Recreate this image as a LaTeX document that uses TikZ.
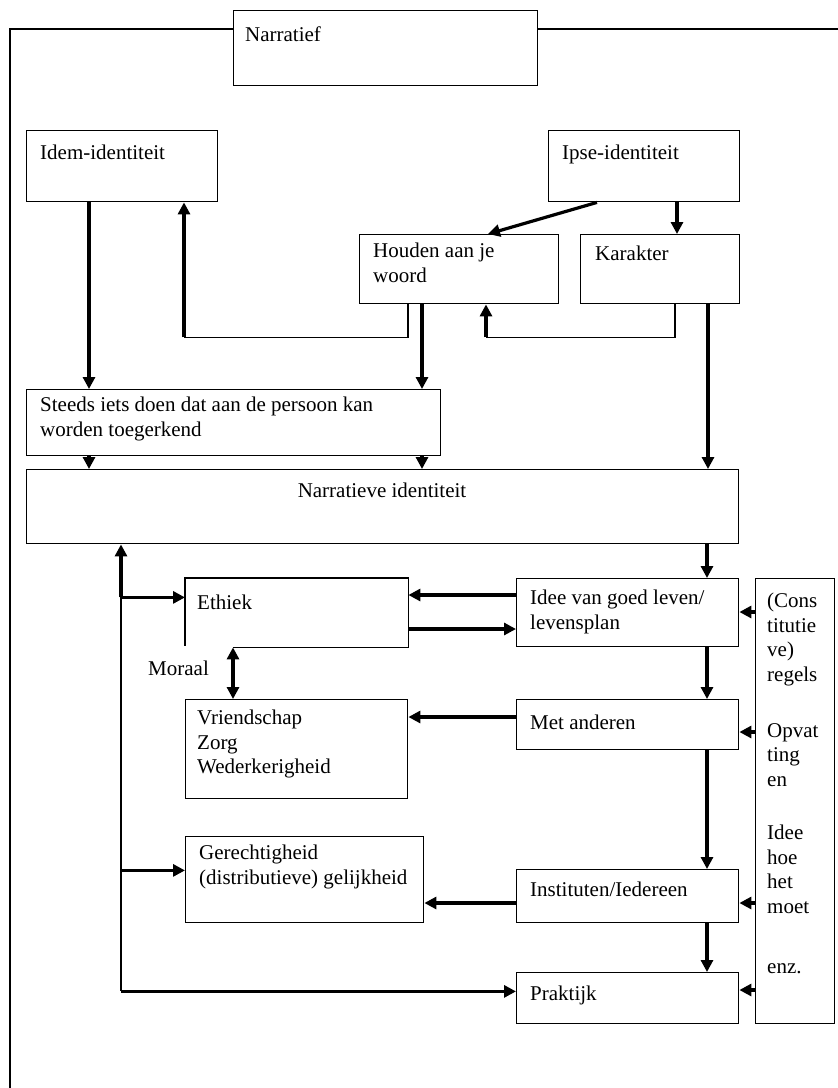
\documentclass[tikz,border=0pt]{standalone}
\usepackage{fontspec}
\setmainfont{Liberation Serif}
\usetikzlibrary{arrows.meta,calc}
\begin{document}
\begin{tikzpicture}[x=1pt,y=-1pt,
  box/.style={draw, line width=1.4pt, rectangle, inner sep=0pt, anchor=north west},
  hidbox/.style={rectangle, inner sep=0pt, outer sep=0.7pt, anchor=north west},
  txt/.style={anchor=north west, inner sep=0pt, align=left, font=\fontsize{21}{24.5}\selectfont, execute at begin node=\strut},
  arr/.style={line width=3.2pt, -{Triangle[length=12pt,width=12pt]}},
  ln/.style={line width=1.5pt},
]
\useasboundingbox (0,0) rectangle (838,1088);
\fill[white] (0,0) rectangle (838,1088);

% boxes
\node[box, minimum width=304pt, minimum height=75pt] (narr) at (233,10) {};
\node[box, minimum width=191pt, minimum height=71pt] (idem) at (26,130) {};
\node[box, minimum width=191pt, minimum height=71pt] (ipse) at (548,130) {};
\node[box, minimum width=199pt, minimum height=69pt] (houden) at (359,234) {};
\node[box, minimum width=159pt, minimum height=69pt] (karakter) at (580,234) {};
\node[box, minimum width=414pt, minimum height=66pt] (steeds) at (26,389) {};
\node[box, minimum width=712pt, minimum height=74pt] (narr2) at (26,469) {};
\node[hidbox, minimum width=222pt, minimum height=68pt] (ethiek) at (185,578) {};
\draw[line width=1.4pt] ($(ethiek.south west)+(48,0)$) -- (ethiek.south east) -- (ethiek.north east) -- (ethiek.north west) -- ($(ethiek.south west)+(0,-1)$);
\node[box, minimum width=222pt, minimum height=99pt] (vriend) at (185,699) {};
\node[box, minimum width=222pt, minimum height=68pt] (idee) at (516,578) {};
\node[box, minimum width=222pt, minimum height=50pt] (met) at (516,699) {};
\node[box, minimum width=79pt, minimum height=445pt] (regels) at (755,578) {};
\node[box, minimum width=238pt, minimum height=86pt] (gerecht) at (185,836) {};
\node[box, minimum width=222pt, minimum height=53pt] (inst) at (516,869) {};
\node[box, minimum width=222pt, minimum height=51pt] (prak) at (516,972) {};

% outer frame
\draw[ln] (10,1095) |- ($(narr.north west)+(0,19)$);
\draw[ln] ($(narr.north east)+(0,19)$) -- (845,29);

% texts
\node[txt] (tnarr) at (245,24) {Narratief};
\node[txt] (tidem) at (40,142) {Idem-identiteit};
\node[txt] (tipse) at (562,142) {Ipse-identiteit};
\node[txt] (thouden) at (373,243) {Houden aan je\\woord};
\node[txt] (tkar) at (595,243) {Karakter};
\node[txt] (tsteeds) at (40,397) {Steeds iets doen dat aan de persoon kan\\worden toegerkend};
\node[txt, anchor=north] (tnarr2) at (382,480) {Narratieve identiteit};
\node[txt] (teth) at (197,592) {Ethiek};
\node[txt] (tmor) at (148,658) {Moraal};
\node[txt] (tvr) at (197,710) {Vriendschap\\Zorg\\Wederkerigheid};
\node[txt] (tidee) at (530,590) {Idee van goed leven/\\levensplan};
\node[txt] (tmet) at (530,712) {Met anderen};
\node[txt] (treg1) at (767,593) {(Cons\\titutie\\ve)\\regels};
\node[txt] (treg2) at (767,723) {Opvat\\ting\\en};
\node[txt] (treg3) at (767,825) {Idee\\hoe\\het\\moet};
\node[txt] (treg4) at (767,956) {enz.};
\node[txt] (tger) at (199,845) {Gerechtigheid\\(distributieve) gelijkheid};
\node[txt] (tinst) at (530,879) {Instituten/Iedereen};
\node[txt] (tprak) at (530,983) {Praktijk};

% connectors
\draw[arr] ($(idem.south west)+(63,0)$) -- ($(steeds.north west)+(63,0)$);
\draw[arr] ($(ipse.south west)+(49,0)$) -- ($(houden.north west)+(129,0)$);
\draw[arr] ($(ipse.south west)+(129,0)$) -- ($(karakter.north west)+(97,0)$);
\draw[ln] ($(houden.south west)+(49,0)$) |- ($(idem.south west)+(158,135)$) coordinate (c1);
\draw[arr] (c1) -- (c1 |- idem.south);
\draw[arr] ($(houden.south west)+(63,0)$) -- ($(steeds.north west)+(396,0)$);
\draw[ln] ($(karakter.south west)+(95,0)$) |- ($(houden.south west)+(127,33)$) coordinate (c2);
\draw[arr] (c2) -- (c2 |- houden.south);
\draw[arr] ($(karakter.south west)+(128,0)$) -- ($(narr2.north west)+(682,0)$);
\draw[arr] ($(steeds.south west)+(63,0)$) -- ($(narr2.north west)+(63,0)$);
\draw[arr] ($(steeds.south west)+(396,0)$) -- ($(narr2.north west)+(396,0)$);
\draw[arr] ($(narr2.south west)+(681,0)$) -- ($(idee.north west)+(191,0)$);
\draw[arr] ($(idee.north west)+(0,17)$) -- ($(ethiek.north east)+(0,17)$);
\draw[arr] ($(ethiek.north east)+(0,51)$) -- ($(idee.north west)+(0,51)$);
\draw[arr] ($(regels.north west)+(0,34)$) -- ($(idee.north east)+(0,34)$);
\draw[arr] ($(idee.south west)+(191,0)$) -- ($(met.north west)+(191,0)$);
\draw[arr] ($(regels.north west)+(0,154)$) -- ($(met.north east)+(0,33)$);
\draw[arr] ($(met.north west)+(0,18)$) -- ($(vriend.north east)+(0,18)$);
\draw[arr, {Triangle[length=12pt,width=12pt]}-{Triangle[length=12pt,width=12pt]}] ($(ethiek.south west)+(48,0)$) -- ($(vriend.north west)+(48,0)$);
\draw[arr] ($(met.south west)+(191,0)$) -- ($(inst.north west)+(191,0)$);
\draw[arr] ($(regels.north west)+(0,325)$) -- ($(inst.north east)+(0,34)$);
\draw[arr] ($(inst.north west)+(0,34)$) -- ($(gerecht.north east)+(0,67)$);
\draw[arr] ($(inst.south west)+(191,0)$) -- ($(prak.north west)+(191,0)$);
\draw[arr] ($(regels.north west)+(0,412)$) -- ($(prak.north east)+(0,18)$);
\coordinate (j1) at ($(narr2.south west)+(95,53)$);
\coordinate (j2) at ($(narr2.south west)+(95,326)$);
\coordinate (j3) at ($(narr2.south west)+(95,447)$);
\draw[ln] (j1) -- (j3);
\draw[arr] (j1) -- (j1 |- narr2.south);
\draw[arr] (j1) -- (j1 -| ethiek.west);
\draw[arr] (j2) -- (j2 -| gerecht.west);
\draw[arr] (j3) -- (j3 -| prak.west);
\end{tikzpicture}
\end{document}
